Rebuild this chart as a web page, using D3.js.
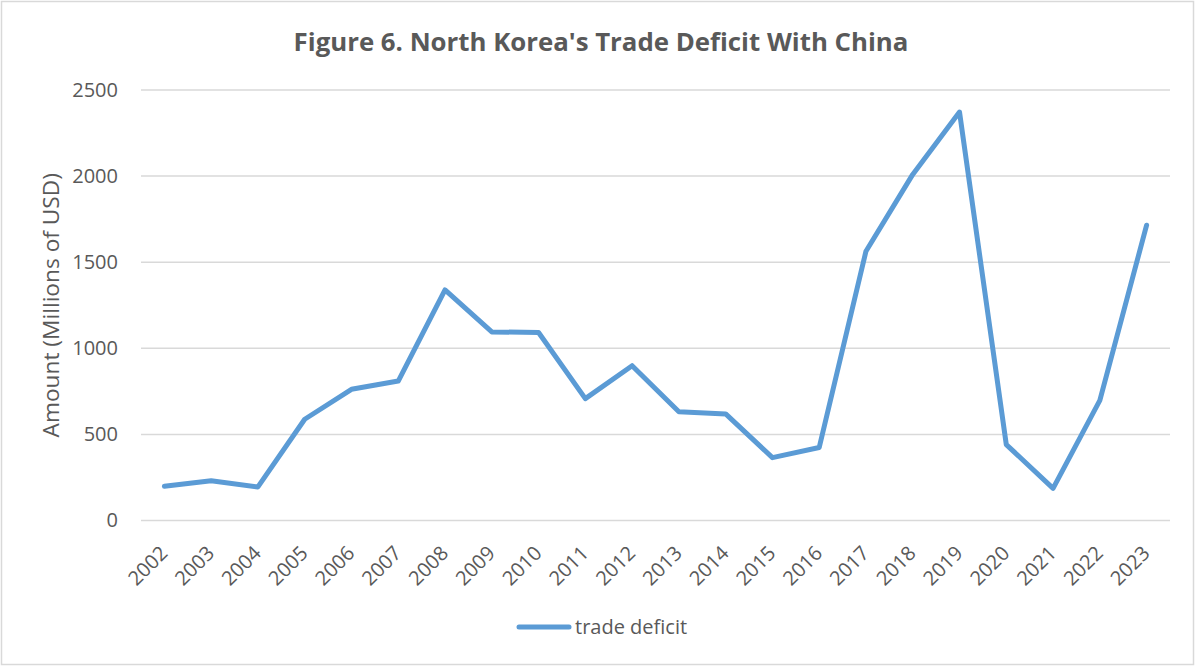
<!DOCTYPE html>
<html>
<meta charset="utf-8">
<head>
<title>trade deficit</title>
	<script src="https://d3js.org/d3.v7.min.js"></script>
	<style>
		body { margin: 0; background: #fff; }
		text { font-family: "Open Sans", sans-serif; fill: #595959; }
	</style>
</head>

<body>
	<div id = "plot"></div>
</body>

<script>

// data
var years = ["2002","2003","2004","2005","2006","2007","2008","2009","2010","2011","2012",
	"2013","2014","2015","2016","2017","2018","2019","2020","2021","2022","2023"];
var deficit = [199, 231, 195, 588, 762, 810, 1339, 1095, 1092, 708, 899,
	631, 619, 365, 424, 1564, 2010, 2372, 441, 187, 698, 1715];
var yTicks = [0, 500, 1000, 1500, 2000, 2500];

var width = 1200, height = 666;
var plot = { left: 141, right: 1170, top: 90, bottom: 520.5 };

var svg = d3.select("#plot").append("svg")
		.attr("width", width)
		.attr("height", height);

// outer border
svg.append("rect")
.attr("x", 1.5).attr("y", 1.5)
.attr("width", 1192).attr("height", 663)
.attr("fill", "white")
.attr("stroke", "#d9d9d9")
.attr("stroke-width", 1.5);

var xScale = d3.scalePoint()
				.domain(years)
				.range([plot.left, plot.right])
				.padding(0.5);

var yScale = d3.scaleLinear()
				.domain([0, 2500])
				.range([plot.bottom, plot.top]);

// gridlines
svg.append("g")
.selectAll("line")
.data(yTicks)
.enter()
.append("line")
.attr("x1", plot.left)
.attr("x2", plot.right)
.attr("y1", function(d){ return yScale(d); })
.attr("y2", function(d){ return yScale(d); })
.attr("stroke", "#d9d9d9")
.attr("stroke-width", 1.5);

// y axis
var yAxis = d3.axisLeft(yScale).tickValues(yTicks).tickFormat(d3.format("d")).tickSize(0).tickPadding(0);
var yg = svg.append("g")
.attr("transform", "translate(118,0)")
.call(yAxis);
yg.select(".domain").remove();
yg.selectAll("text").style("font-size", "20px").attr("fill", "#595959");

// x axis
var xAxis = d3.axisBottom(xScale).tickSize(0);
var xg = svg.append("g")
.attr("transform", "translate(0," + plot.bottom + ")")
.call(xAxis);
xg.select(".domain").remove();
xg.selectAll("text")
.style("font-size", "20px")
.attr("fill", "#595959")
.attr("text-anchor", "end")
.attr("dy", "0.35em")
.attr("y", 0)
.attr("transform", "translate(-1,29) rotate(-45)");

// title
svg.append("text")
.attr("x", 601)
.attr("y", 51)
.attr("text-anchor", "middle")
.style("font-size", "25.8px")
.style("font-weight", "bold")
.text("Figure 6. North Korea's Trade Deficit With China");

// y axis title
svg.append("text")
.attr("transform", "translate(59," + ((plot.top + plot.bottom) / 2) + ") rotate(-90)")
.attr("text-anchor", "middle")
.style("font-size", "22.7px")
.text("Amount (Millions of USD)");

// series line
var line = d3.line()
.x(function(d, i){ return xScale(years[i]); })
.y(function(d){ return yScale(d); });

svg.append("path")
.datum(deficit)
.attr("d", line)
.attr("fill", "none")
.attr("stroke", "#5b9bd5")
.attr("stroke-width", 5)
.attr("stroke-linejoin", "round")
.attr("stroke-linecap", "round");

// legend
svg.append("line")
.attr("x1", 519).attr("x2", 569)
.attr("y1", 627).attr("y2", 627)
.attr("stroke", "#5b9bd5")
.attr("stroke-width", 5)
.attr("stroke-linecap", "round");

svg.append("text")
.attr("x", 575)
.attr("y", 634)
.style("font-size", "20px")
.text("trade deficit");

</script>
</html>
